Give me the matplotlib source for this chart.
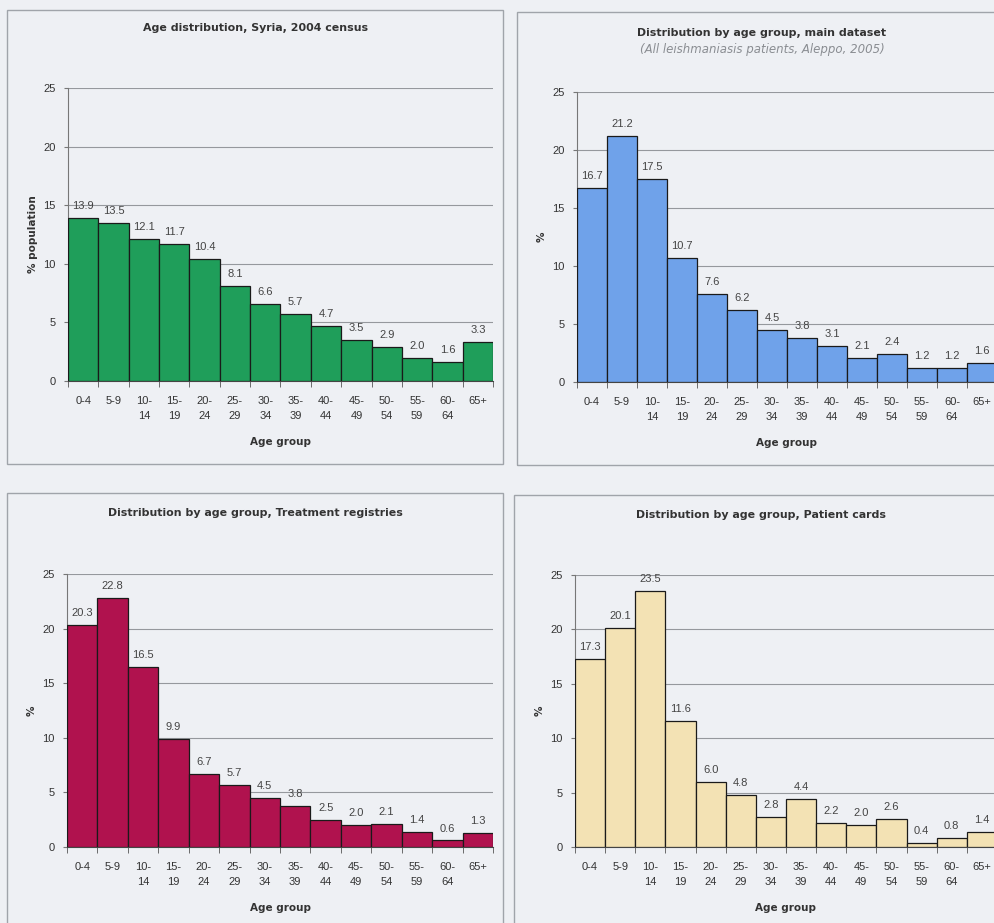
import matplotlib
matplotlib.use("Agg")
import matplotlib.pyplot as plt
from matplotlib.patches import Rectangle

# age groups and the four distributions (%)
age_groups = ["0-4", "5-9", "10-\n14", "15-\n19", "20-\n24", "25-\n29", "30-\n34",
              "35-\n39", "40-\n44", "45-\n49", "50-\n54", "55-\n59", "60-\n64", "65+"]
census = [13.9, 13.5, 12.1, 11.7, 10.4, 8.1, 6.6, 5.7, 4.7, 3.5, 2.9, 2.0, 1.6, 3.3]
main_dataset = [16.7, 21.2, 17.5, 10.7, 7.6, 6.2, 4.5, 3.8, 3.1, 2.1, 2.4, 1.2, 1.2, 1.6]
registries = [20.3, 22.8, 16.5, 9.9, 6.7, 5.7, 4.5, 3.8, 2.5, 2.0, 2.1, 1.4, 0.6, 1.3]
patient_cards = [17.3, 20.1, 23.5, 11.6, 6.0, 4.8, 2.8, 4.4, 2.2, 2.0, 2.6, 0.4, 0.8, 1.4]

W, H = 995, 923
bg = "#eef0f4"
fig = plt.figure(figsize=(W / 100, H / 100), dpi=100)
fig.patch.set_facecolor(bg)


def fx(x):
    return x / W


def fy(y):
    return 1 - y / H


def panel_box(x0, y0, x1, y1):
    fig.patches.append(Rectangle((fx(x0), fy(y1)), fx(x1 - x0), (y1 - y0) / H,
                                 transform=fig.transFigure, facecolor="none",
                                 edgecolor="#a0a4aa", lw=1.0))


def bar_panel(box, values, color, ylabel, title, title_x, title_y, subtitle=None):
    l, r, t, b = box
    ax = fig.add_axes([fx(l), fy(b), fx(r - l), (b - t) / H])
    ax.set_facecolor(bg)
    x = list(range(len(values)))
    ax.bar(x, values, width=1.0, color=color, edgecolor="#1a1a1a", lw=0.9, zorder=3)
    for xi, v in zip(x, values):
        ax.annotate(f"{v:.1f}", (xi, v), xytext=(0, 5), textcoords="offset points",
                    ha="center", va="bottom", fontsize=8, color="#444444",
                    family="Liberation Sans", zorder=4)
    ax.set_xlim(-0.5, len(values) - 0.5)
    ax.set_ylim(0, 25)
    ax.set_yticks([0, 5, 10, 15, 20, 25])
    ax.yaxis.grid(True, color="#95989d", lw=0.8, zorder=0)
    ax.set_xticks(x)
    ax.set_xticklabels(age_groups, fontsize=8, color="#333333", family="Liberation Sans",
                       linespacing=1.65, va="top")
    ax.set_xticks([i - 0.5 for i in range(len(values) + 1)], minor=True)
    ax.tick_params(axis="x", which="major", length=0, pad=11)
    ax.tick_params(axis="x", which="minor", length=4, color="#555555")
    ax.tick_params(axis="y", length=3, color="#777777", labelsize=8, labelcolor="#333333", pad=6)
    for lab in ax.get_yticklabels():
        lab.set_family("Liberation Sans")
    for s in ["top", "right"]:
        ax.spines[s].set_visible(False)
    ax.spines["left"].set_color("#777777")
    ax.spines["bottom"].set_color("#444444")
    ax.set_xlabel("Age group", fontsize=7.5, fontweight="bold", color="#333333",
                  family="DejaVu Sans", labelpad=11)
    ax.set_ylabel(ylabel, fontsize=7.5, fontweight="bold", color="#333333",
                  family="DejaVu Sans")
    ax.yaxis.set_label_coords(-30 / (r - l), 0.5)
    fig.text(fx(title_x), fy(title_y), title, ha="center", va="center", fontsize=7.9,
             fontweight="bold", color="#333333", family="DejaVu Sans")
    if subtitle:
        fig.text(fx(title_x), fy(title_y + 17), subtitle, ha="center", va="center",
                 fontsize=8.5, style="italic", color="#8a8d92", family="DejaVu Sans")
    return ax


panel_box(7, 10, 503, 464)
panel_box(517, 12, 1005, 465)
panel_box(7, 493, 503, 930)
panel_box(514, 495, 1005, 930)

bar_panel((68, 493, 88, 381), census, "#1f9e5a", "% population",
          "Age distribution, Syria, 2004 census", 256, 28)
bar_panel((577, 997, 92, 382), main_dataset, "#6fa2ea", "%",
          "Distribution by age group, main dataset", 762, 33,
          "(All leishmaniasis patients, Aleppo, 2005)")
bar_panel((67, 493, 574, 847), registries, "#b0124e", "%",
          "Distribution by age group, Treatment registries", 255, 513)
bar_panel((575, 997, 575, 847), patient_cards, "#f3e2b4", "%",
          "Distribution by age group, Patient cards", 761, 515)

fig.savefig("out.png", dpi=100, facecolor=bg)
